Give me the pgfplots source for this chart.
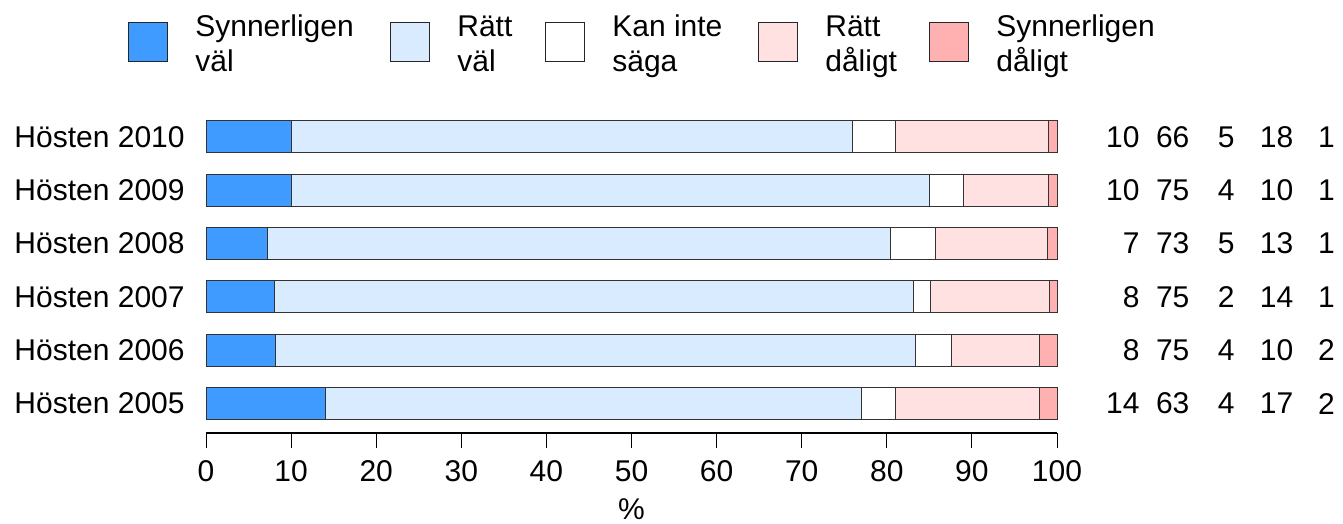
\documentclass[border=0pt]{standalone}
\usepackage{pgfplots}
\pgfplotsset{compat=1.18}
\usepackage{fontspec}
\setmainfont{Liberation Sans}
\definecolor{c1}{HTML}{3F9BFF}
\definecolor{c2}{HTML}{D9ECFF}
\definecolor{c3}{HTML}{FFFFFF}
\definecolor{c4}{HTML}{FFE1E1}
\definecolor{c5}{HTML}{FFB1B1}
\pgfplotsset{sqlegend/.style={legend image code/.code={\draw[##1,draw=black!85,line width=0.5pt] (0pt,-12.75pt) rectangle (19.5pt,6.75pt);}}}
\newcommand{\lent}[3]{\makebox[#1][l]{\hspace{13.5pt}\begin{tabular}{@{}l@{}}#2\\#3\end{tabular}}}
\begin{document}
\fontsize{15}{17.5}\selectfont
\begin{tikzpicture}
\useasboundingbox (0,0) rectangle (671.5pt,262pt);
\begin{axis}[
  at={(103pt,45.5pt)}, anchor=south west,
  scale only axis, width=425.5pt, height=162.7pt,
  xmin=0, xmax=100, ymin=0.45, ymax=6.55,
  enlargelimits=false,
  xbar stacked, bar width=16pt,
  axis x line*=bottom, axis y line*=left,
  x axis line style={-, line width=0.9pt},
  y axis line style={draw=none},
  xtick={0,10,...,100},
  ytick={1,2,3,4,5,6},
  yticklabels={Hösten 2005,Hösten 2006,Hösten 2007,Hösten 2008,Hösten 2009,Hösten 2010},
  tick align=outside,
  major tick length=7.5pt,
  ytick style={draw=none},
  xtick style={black, line width=0.5pt},
  yticklabel style={inner sep=0pt, xshift=-3pt},
  xticklabel style={inner sep=0pt, yshift=-6pt},
  /pgf/number format/assume math mode=true,
  xlabel={\%},
  xlabel style={inner sep=0pt, yshift=-8.5pt},
  clip=false,
  legend columns=5,
  legend cell align=left,
  legend style={draw=none, fill=none, at={(-0.0917,1.2169)}, anchor=west,
    inner sep=0pt, column sep=0pt, nodes={inner sep=0pt, anchor=west},
    /tikz/every odd column/.style={column sep=0pt}},
]
\addplot[fill=c1, draw=black!80, line width=0.5pt, sqlegend] coordinates {(10.0,6) (10.0,5) (7.2,4) (8.0,3) (8.2,2) (14.0,1)};
\addlegendentry{\lent{111pt}{Synnerligen}{väl}}
\addplot[fill=c2, draw=black!80, line width=0.5pt, sqlegend] coordinates {(66,6) (75,5) (73.2,4) (75.1,3) (75.2,2) (63,1)};
\addlegendentry{\lent{57.5pt}{Rätt}{väl}}
\addplot[fill=c3, draw=black!80, line width=0.5pt, sqlegend] coordinates {(5,6) (4,5) (5.3,4) (2,3) (4.2,2) (4,1)};
\addlegendentry{\lent{86.5pt}{Kan inte}{säga}}
\addplot[fill=c4, draw=black!80, line width=0.5pt, sqlegend] coordinates {(18,6) (10,5) (13.2,4) (14,3) (10.3,2) (17,1)};
\addlegendentry{\lent{65.5pt}{Rätt}{dåligt}}
\addplot[fill=c5, draw=black!80, line width=0.5pt, sqlegend] coordinates {(1,6) (1,5) (1.1,4) (0.9,3) (2.1,2) (2,1)};
\addlegendentry{\hspace{13.5pt}\begin{tabular}{@{}l@{}}Synnerligen\\dåligt\end{tabular}}
% numbers column
\node[anchor=east,inner sep=0pt] at (axis cs:109.75,6) {10};
\node[anchor=east,inner sep=0pt] at (axis cs:115.6,6) {66};
\node[anchor=east,inner sep=0pt] at (axis cs:120.9,6) {5};
\node[anchor=east,inner sep=0pt] at (axis cs:127.8,6) {18};
\node[anchor=east,inner sep=0pt] at (axis cs:132.7,6) {1};
\node[anchor=east,inner sep=0pt] at (axis cs:109.75,5) {10};
\node[anchor=east,inner sep=0pt] at (axis cs:115.6,5) {75};
\node[anchor=east,inner sep=0pt] at (axis cs:120.9,5) {4};
\node[anchor=east,inner sep=0pt] at (axis cs:127.8,5) {10};
\node[anchor=east,inner sep=0pt] at (axis cs:132.7,5) {1};
\node[anchor=east,inner sep=0pt] at (axis cs:109.75,4) {7};
\node[anchor=east,inner sep=0pt] at (axis cs:115.6,4) {73};
\node[anchor=east,inner sep=0pt] at (axis cs:120.9,4) {5};
\node[anchor=east,inner sep=0pt] at (axis cs:127.8,4) {13};
\node[anchor=east,inner sep=0pt] at (axis cs:132.7,4) {1};
\node[anchor=east,inner sep=0pt] at (axis cs:109.75,3) {8};
\node[anchor=east,inner sep=0pt] at (axis cs:115.6,3) {75};
\node[anchor=east,inner sep=0pt] at (axis cs:120.9,3) {2};
\node[anchor=east,inner sep=0pt] at (axis cs:127.8,3) {14};
\node[anchor=east,inner sep=0pt] at (axis cs:132.7,3) {1};
\node[anchor=east,inner sep=0pt] at (axis cs:109.75,2) {8};
\node[anchor=east,inner sep=0pt] at (axis cs:115.6,2) {75};
\node[anchor=east,inner sep=0pt] at (axis cs:120.9,2) {4};
\node[anchor=east,inner sep=0pt] at (axis cs:127.8,2) {10};
\node[anchor=east,inner sep=0pt] at (axis cs:132.7,2) {2};
\node[anchor=east,inner sep=0pt] at (axis cs:109.75,1) {14};
\node[anchor=east,inner sep=0pt] at (axis cs:115.6,1) {63};
\node[anchor=east,inner sep=0pt] at (axis cs:120.9,1) {4};
\node[anchor=east,inner sep=0pt] at (axis cs:127.8,1) {17};
\node[anchor=east,inner sep=0pt] at (axis cs:132.7,1) {2};
\end{axis}
\end{tikzpicture}
\end{document}
